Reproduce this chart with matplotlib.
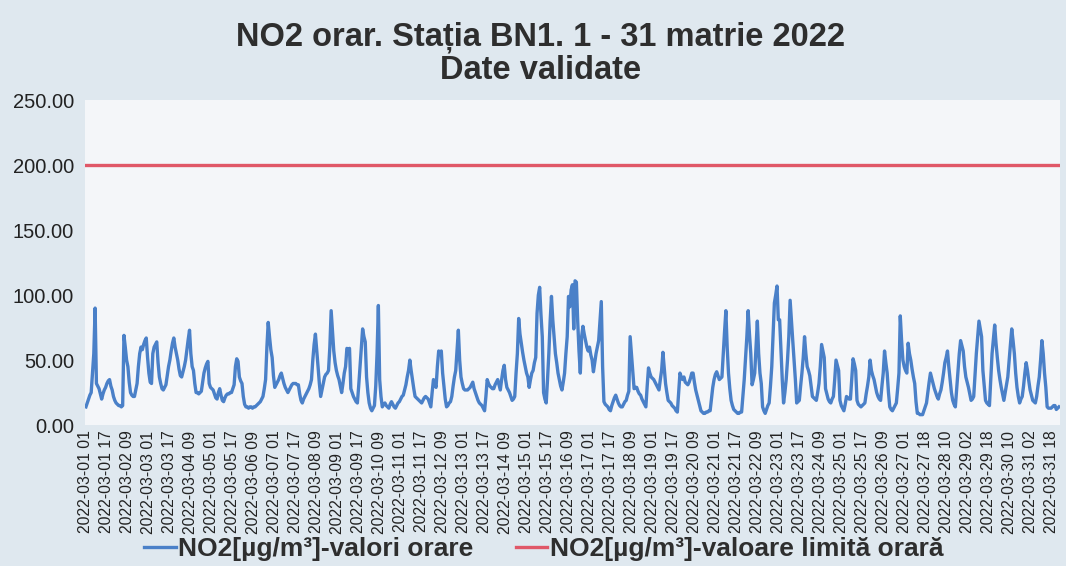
import matplotlib
matplotlib.use("Agg")
import matplotlib.pyplot as plt

# Hourly NO2 values (µg/m³), 2022-03-01 01 ... 2022-03-31 24 (DST hour skipped on 27th)
no2_hourly = [
    14, 17, 20, 23, 25, 40, 55, 90, 32, 30, 28, 24, 20, 24, 27, 29, 32, 34, 35, 30, 27, 22, 19, 17,
    16, 15, 15, 14, 15, 69, 60, 50, 45, 33, 25, 23, 22, 22, 27, 32, 45, 55, 60, 58, 62, 65, 67, 52,
    40, 33, 32, 55, 60, 62, 64, 48, 37, 32, 28, 27, 29, 31, 38, 45, 50, 57, 63, 67, 60, 55, 50, 43,
    38, 37, 41, 45, 50, 58, 66, 73, 55, 45, 42, 32, 25, 25, 24, 25, 26, 33, 40, 44, 47, 49, 32, 29,
    28, 27, 24, 21, 20, 25, 28, 23, 19, 18, 21, 23, 24, 24, 25, 25, 28, 31, 45, 51, 49, 37, 34, 32,
    22, 16, 14, 14, 13, 14, 14, 13, 14, 14, 15, 16, 17, 18, 20, 22, 28, 35, 60, 79, 68, 58, 52, 38,
    29, 31, 33, 35, 38, 40, 36, 32, 29, 27, 25, 27, 29, 31, 32, 32, 32, 31, 31, 24, 19, 17, 20, 22,
    24, 26, 28, 31, 35, 50, 62, 70, 58, 45, 32, 22, 27, 32, 37, 39, 40, 42, 60, 88, 72, 57, 48, 42,
    38, 35, 30, 25, 32, 40, 45, 59, 58, 59, 28, 25, 22, 20, 18, 17, 30, 45, 60, 74, 68, 64, 37, 25,
    17, 13, 11, 13, 15, 30, 55, 92, 35, 22, 14, 16, 17, 15, 14, 13, 16, 18, 16, 14, 13, 15, 17, 18,
    20, 22, 23, 27, 31, 37, 42, 50, 42, 35, 28, 22, 21, 20, 19, 18, 17, 19, 21, 22, 21, 20, 17, 14,
    25, 35, 32, 29, 45, 57, 56, 57, 40, 30, 20, 14, 15, 17, 18, 22, 30, 37, 42, 58, 73, 50, 37, 32,
    28, 27, 27, 27, 28, 29, 31, 33, 28, 25, 22, 19, 17, 16, 15, 13, 11, 22, 35, 32, 30, 29, 28, 28,
    31, 33, 35, 31, 27, 35, 42, 46, 35, 29, 27, 25, 22, 19, 20, 22, 40, 55, 82, 70, 63, 56, 50, 45,
    40, 37, 29, 35, 40, 42, 48, 52, 86, 100, 106, 85, 68, 25, 20, 17, 35, 55, 80, 99, 81, 68, 55, 48,
    40, 35, 30, 27, 33, 40, 55, 68, 99, 91, 104, 108, 74, 111, 110, 80, 57, 40, 68, 76, 70, 65, 60, 57,
    60, 54, 50, 41, 48, 55, 60, 65, 80, 95, 45, 18, 16, 15, 14, 12, 11, 15, 18, 21, 23, 20, 17, 15,
    14, 14, 16, 18, 19, 23, 26, 68, 55, 42, 28, 29, 29, 26, 24, 23, 20, 18, 16, 14, 30, 44, 40, 37,
    36, 35, 33, 31, 29, 27, 35, 42, 56, 44, 32, 25, 19, 18, 17, 15, 14, 13, 11, 10, 25, 40, 37, 35,
    37, 33, 32, 31, 33, 36, 40, 40, 33, 27, 23, 19, 15, 11, 10, 9, 9, 10, 10, 11, 11, 20, 29, 35,
    39, 41, 38, 35, 36, 37, 55, 72, 88, 60, 40, 28, 19, 15, 12, 11, 10, 9, 9, 10, 10, 22, 35, 52,
    68, 88, 70, 55, 31, 35, 40, 60, 80, 55, 40, 32, 14, 11, 9, 12, 15, 17, 30, 45, 70, 94, 100, 107,
    81, 81, 57, 35, 17, 25, 35, 50, 68, 96, 80, 65, 50, 35, 17, 18, 19, 30, 40, 52, 68, 55, 45, 42,
    38, 30, 22, 21, 20, 19, 25, 32, 45, 62, 57, 52, 28, 24, 20, 18, 17, 20, 22, 35, 50, 46, 42, 19,
    15, 13, 11, 16, 22, 21, 20, 20, 35, 51, 47, 42, 19, 16, 15, 14, 15, 16, 17, 24, 30, 37, 50, 42,
    38, 35, 30, 25, 22, 20, 19, 30, 40, 57, 48, 40, 25, 14, 12, 11, 13, 15, 17, 28, 40, 84, 65, 50,
    45, 42, 40, 63, 55, 50, 43, 37, 32, 18, 9, 9, 8, 8, 8, 11, 14, 17, 25, 33, 40, 36, 32, 28,
    25, 22, 20, 24, 27, 33, 40, 48, 52, 57, 45, 35, 25, 19, 16, 14, 28, 42, 55, 65, 61, 57, 45, 37,
    33, 29, 24, 19, 20, 22, 38, 55, 68, 80, 74, 68, 42, 30, 19, 17, 16, 15, 35, 55, 66, 77, 63, 52,
    42, 35, 29, 24, 19, 25, 31, 37, 50, 62, 74, 65, 55, 40, 29, 22, 17, 20, 22, 30, 40, 48, 42, 34,
    27, 23, 19, 18, 17, 22, 30, 37, 50, 65, 55, 40, 29, 14, 13, 13, 13, 14, 15, 15, 12, 13, 14,
]

limit_value = 200.0
limit_hourly = [limit_value] * len(no2_hourly)

tick_labels = [
    "2022-03-01 01", "2022-03-01 17", "2022-03-02 09", "2022-03-03 01", "2022-03-03 17",
    "2022-03-04 09", "2022-03-05 01", "2022-03-05 17", "2022-03-06 09", "2022-03-07 01",
    "2022-03-07 17", "2022-03-08 09", "2022-03-09 01", "2022-03-09 17", "2022-03-10 09",
    "2022-03-11 01", "2022-03-11 17", "2022-03-12 09", "2022-03-13 01", "2022-03-13 17",
    "2022-03-14 09", "2022-03-15 01", "2022-03-15 17", "2022-03-16 09", "2022-03-17 01",
    "2022-03-17 17", "2022-03-18 09", "2022-03-19 01", "2022-03-19 17", "2022-03-20 09",
    "2022-03-21 01", "2022-03-21 17", "2022-03-22 09", "2022-03-23 01", "2022-03-23 17",
    "2022-03-24 09", "2022-03-25 01", "2022-03-25 17", "2022-03-26 09", "2022-03-27 01",
    "2022-03-27 18", "2022-03-28 10", "2022-03-29 02", "2022-03-29 18", "2022-03-30 10",
    "2022-03-31 02", "2022-03-31 18",
]
tick_step = 16

y_ticks = [0, 50, 100, 150, 200, 250]

title = "NO2 orar. Stația BN1. 1 - 31 matrie 2022\nDate validate"
label_values = "NO2[µg/m³]-valori orare"
label_limit = "NO2[µg/m³]-valoare limită orară"

plt.rcParams['font.family'] = ['Liberation Sans', 'DejaVu Sans']

fig = plt.figure(figsize=(10.66, 5.66), dpi=100, facecolor="#dfe8ef")
ax = fig.add_axes([0.080, 0.249, 0.914, 0.574])
ax.set_facecolor("#f4f6f9")

x = list(range(len(no2_hourly)))
ax.plot(x, no2_hourly, color="#4a80c8", lw=2.4, solid_joinstyle="round", label=label_values)
ax.plot(x, limit_hourly, color="#e05868", lw=2.4, label=label_limit)

ax.set_xlim(-0.5, len(no2_hourly) - 0.5)
ax.set_ylim(0, 250)
ax.set_yticks(y_ticks)
ax.set_yticklabels([f"{v:.2f}" for v in y_ticks], fontsize=14.5, color="#222222")
ax.set_xticks([k * tick_step for k in range(len(tick_labels))])
ax.set_xticklabels(tick_labels, rotation=90, fontsize=11.3, color="#222222")
ax.tick_params(axis="both", length=0)
ax.tick_params(axis="y", pad=8)
ax.tick_params(axis="x", pad=4)
for s in ax.spines.values():
    s.set_visible(False)

fig.text(0.507, 0.905, title, ha="center", va="center", fontsize=23.5,
         fontweight="bold", color="#2e2e2e", linespacing=1.12)

leg = fig.legend(loc="center", bbox_to_anchor=(0.51, 0.03), ncol=2, frameon=False,
                 fontsize=19, handlelength=1.2, handletextpad=0.1, columnspacing=1.6)
for t in leg.get_texts():
    t.set_fontweight("bold")
    t.set_color("#2e2e2e")

fig.savefig("out.png", dpi=100, facecolor=fig.get_facecolor())
